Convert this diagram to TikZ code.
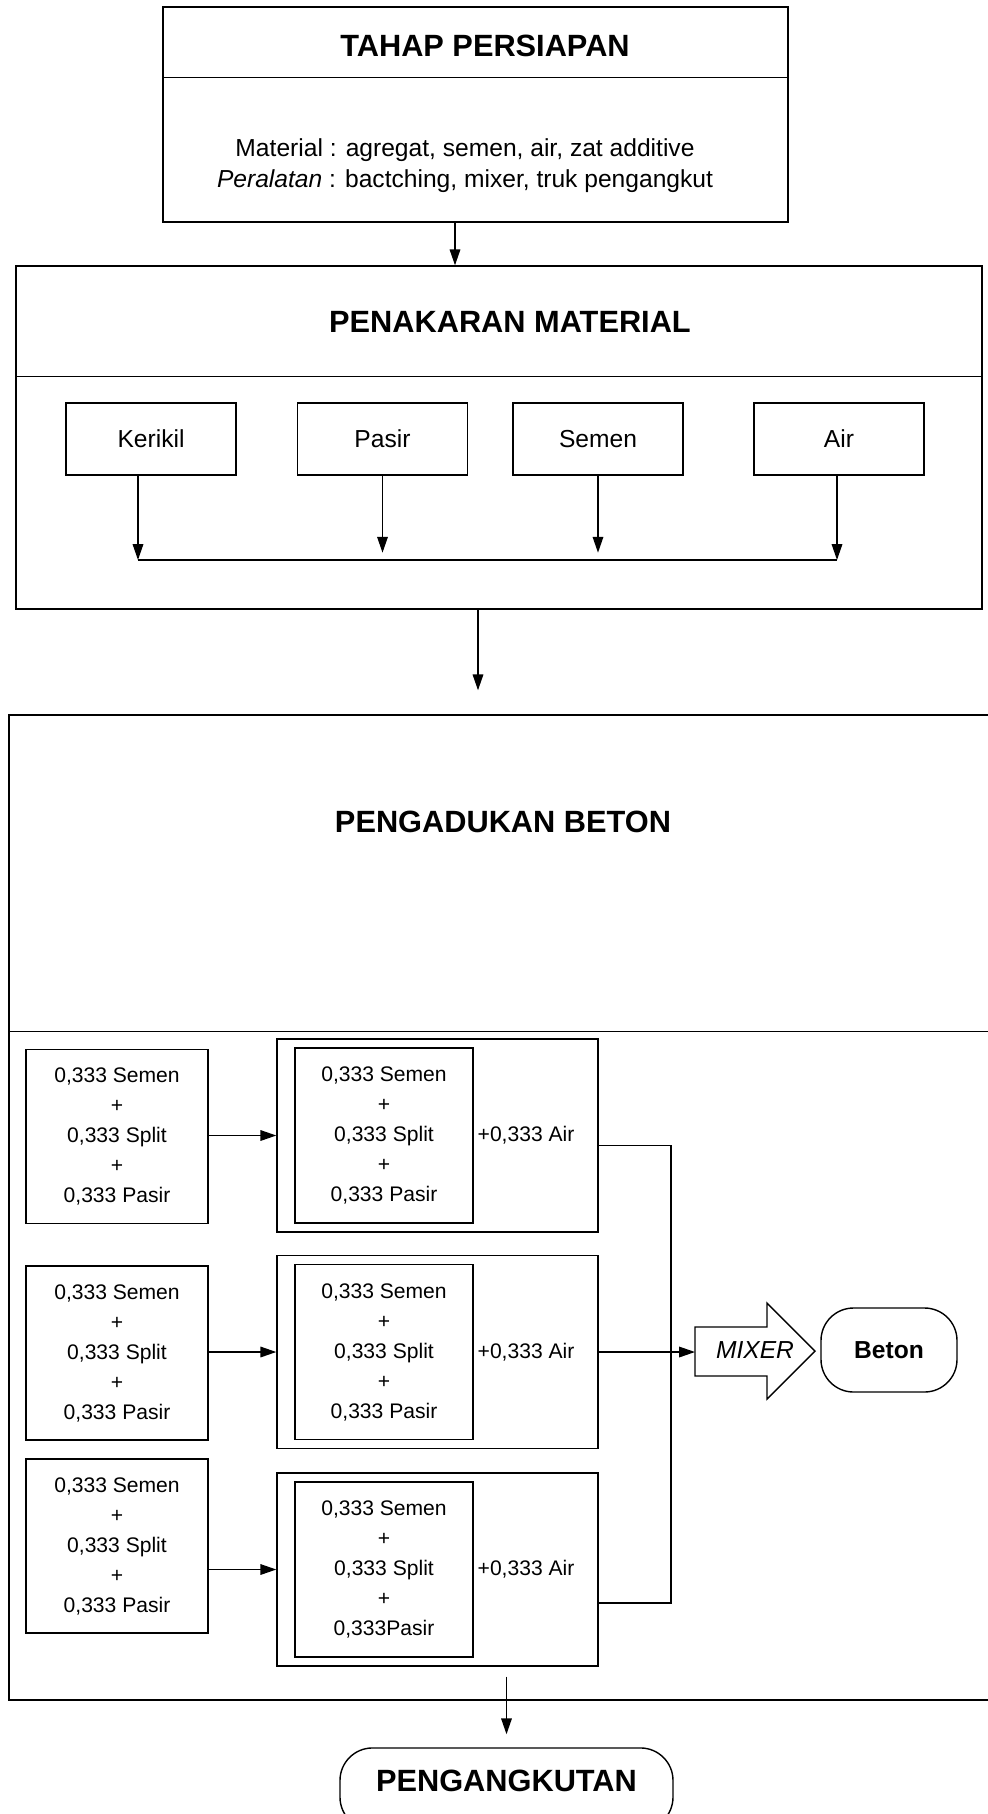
\documentclass[tikz,border=0pt]{standalone}
\usepackage{fontspec}
\setmainfont{Liberation Sans}
\usetikzlibrary{arrows.meta,positioning,calc}

\begin{document}
\begin{tikzpicture}[
  line width=0.8pt,
  >={Triangle[length=9pt,width=6pt]},
  frame/.style={draw, rectangle, inner sep=0pt},
  head/.style={font=\fontsize{17.5}{20}\selectfont\bfseries},
  matbox/.style={draw, minimum width=3.4cm, minimum height=1.44cm, font=\fontsize{14}{16}\selectfont},
  mixbox/.style={draw, align=center, inner sep=0pt, font=\fontsize{12}{17.07}\selectfont},
  airtext/.style={anchor=west, inner sep=0pt, font=\fontsize{12}{14}\selectfont},
  endbox/.style={draw, rounded corners=0.65cm},
]
  \useasboundingbox (0,0) rectangle (19.74,-36.28);

  % Tahap persiapan
  \node[frame, minimum width=12.5cm, minimum height=4.3cm] (tahap) at (9.51,-2.29) {};
  \draw ([yshift=-1.42cm]tahap.north west) -- ([yshift=-1.42cm]tahap.north east);
  \node[head] (tahaptitle) at (9.70,-0.92) {TAHAP PERSIAPAN};
  \node[align=center, font=\fontsize{14}{17.5}\selectfont] (tahaptext) at (9.30,-3.32)
    {Material : agregat, semen, air, zat additive\\\textit{Peralatan} : bactching, mixer, truk pengangkut};

  % Penakaran material
  \node[frame, minimum width=19.32cm, minimum height=6.86cm] (penakaran) at (9.98,-8.75) {};
  \draw ([yshift=-2.22cm]penakaran.north west) -- ([yshift=-2.22cm]penakaran.north east);
  \node[head] (penakarantitle) at (10.20,-6.44) {PENAKARAN MATERIAL};
  \draw[->] ([xshift=-0.41cm]tahap.south) -- ([xshift=-0.41cm]tahap.south |- penakaran.north);

  \node[matbox] (kerikil) at (3.02,-8.78) {Kerikil};
  \node[matbox] (pasir) at (7.65,-8.78) {Pasir};
  \node[matbox] (semen) at (11.96,-8.78) {Semen};
  \node[matbox] (air) at (16.78,-8.78) {Air};

  \coordinate (joinL) at (2.76,-11.2);
  \coordinate (joinR) at (16.74,-11.2);
  \draw (joinL) -- (joinR);
  \draw[->] (kerikil.south -| joinL) -- (joinL);
  \draw[->] (air.south -| joinR) -- (joinR);
  \foreach \n in {pasir,semen}
    \draw[->] (\n.south) -- ++(0,-1.54);

  % Pengadukan beton
  \node[frame, minimum width=19.82cm, minimum height=19.7cm] (pengadukan) at (10.09,-24.15) {};
  \draw ([yshift=-6.34cm]pengadukan.north west) -- ([yshift=-6.34cm]pengadukan.north east);
  \node[head] (pengaduktitle) at (10.06,-16.44) {PENGADUKAN BETON};
  \draw[->, shorten >=0.48cm] ([xshift=-0.42cm]penakaran.south) -- ([xshift=-0.42cm]penakaran.south |- pengadukan.north);

  \foreach \i/\y/\yl/\pa in {1/-22.71/-22.73/{0,333 Pasir}, 2/-27.04/-27.06/{0,333 Pasir}, 3/-31.39/-30.92/{0,333Pasir}} {
    \node[mixbox, minimum width=3.64cm, minimum height=3.48cm] (left\i) at (2.34,\yl)
      {0,333 Semen\\+\\0,333 Split\\+\\0,333 Pasir};
    \node[frame, minimum width=6.42cm, minimum height=3.86cm] (outer\i) at (8.75,\y) {};
    \node[mixbox, minimum width=3.56cm, minimum height=3.5cm] (inner\i) at (7.68,\y)
      {0,333 Semen\\+\\0,333 Split\\+\\\pa};
    \node[airtext] (air\i) at (9.54,\y) {+0,333 Air};
    \draw[->] (outer\i.west -| left\i.east) -- (outer\i.west);
  }

  % Ke mixer
  \coordinate (busT) at (13.42,-22.91);
  \coordinate (busB) at (13.42,-32.06);
  \draw ([yshift=-0.2cm]outer1.east) -- (busT) -- (busB) -- ([yshift=-0.67cm]outer3.east);

  \draw (13.9,-26.54) -- (15.34,-26.54) -- (15.34,-26.06) -- (16.3,-27.02)
    -- (15.34,-27.98) -- (15.34,-27.52) -- (13.9,-27.52) -- cycle;
  \coordinate (mixin) at (13.9,-27.04);
  \node[font=\fontsize{14}{16}\selectfont\itshape] (mixer) at (15.1,-27.0) {MIXER};
  \draw[->] (outer2.east) -- (mixin);

  \node[endbox, minimum width=2.72cm, minimum height=1.68cm, font=\fontsize{14}{16}\selectfont\bfseries] (beton) at (17.78,-27.0) {Beton};

  % Pengangkutan (bawahnya terpotong)
  \node[endbox, head, inner sep=0pt, minimum width=6.66cm, text height=24.5pt, text depth=22pt, anchor=base]
    (angkut) at (10.13,-35.82) {PENGANGKUTAN};
  \draw[->, shorten <=0.2cm, shorten >=0.26cm] (outer3.south -| angkut.north) -- (angkut.north);
\end{tikzpicture}
\end{document}
